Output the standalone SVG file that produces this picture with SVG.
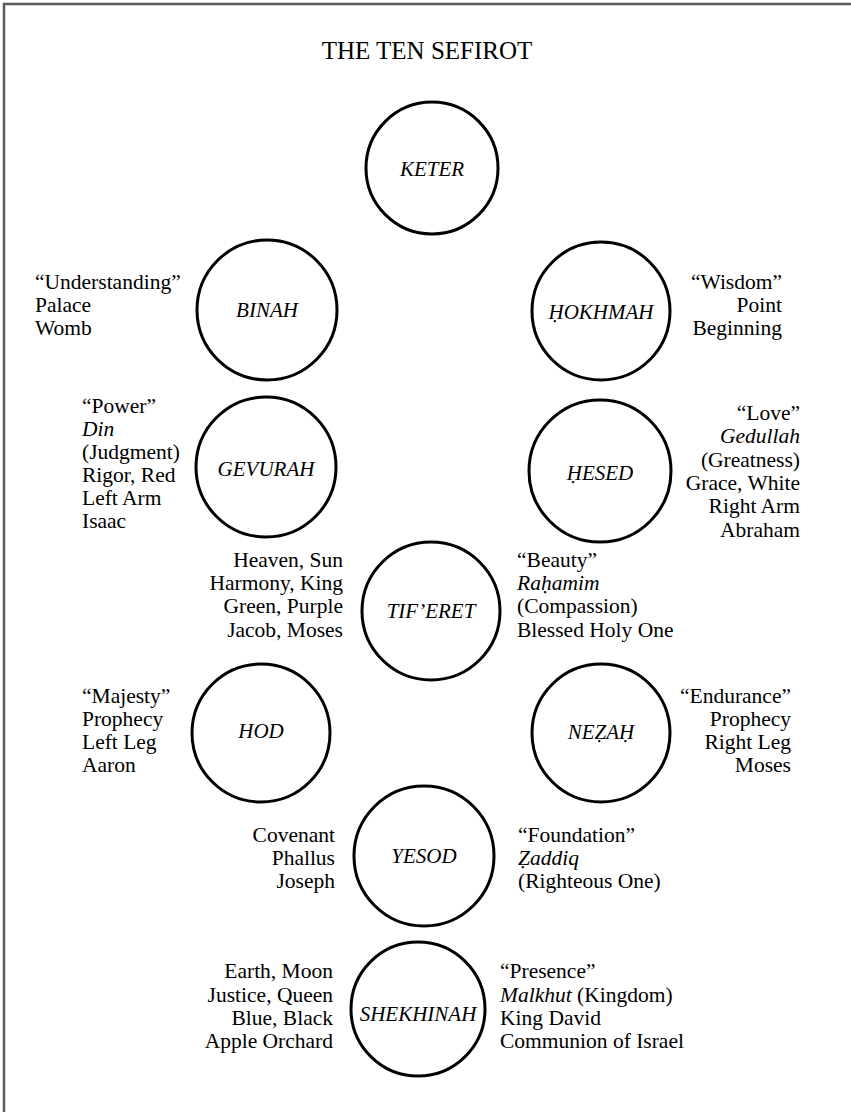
<svg xmlns="http://www.w3.org/2000/svg" width="851" height="1112" viewBox="0 0 851 1112">
<style>
.frame{fill:none;stroke:#5a5a5a;stroke-width:2.5}
.ring{fill:none;stroke:#000;stroke-width:3}
.title{font-family:"Liberation Serif",serif;font-size:25px;fill:#000;text-anchor:middle}
.name{font-family:"Liberation Serif",serif;font-size:21px;font-style:italic;fill:#000;text-anchor:middle}
.lab{font-family:"Liberation Serif",serif;font-size:21.5px;fill:#000}
.r{text-anchor:end}
.i{font-style:italic}
</style>
<rect width="851" height="1112" fill="#fff"/>
<polyline class="frame" points="4,1112 4,4 851,4"/>
<text class="title" x="427" y="59">THE TEN SEFIROT</text>
<g id="connectors"/>
<g id="keter">
<circle class="ring" cx="432" cy="168" r="66"/>
<text class="name" x="432" y="176">KETER</text>
</g>
<g id="binah">
<circle class="ring" cx="267" cy="310" r="70"/>
<text class="name" x="267" y="317">BINAH</text>
<text class="lab" x="35" y="289">“Understanding”</text>
<text class="lab" x="35" y="312">Palace</text>
<text class="lab" x="35" y="335">Womb</text>
</g>
<g id="hokhmah">
<circle class="ring" cx="601" cy="311" r="69"/>
<text class="name" x="601" y="319">ḤOKHMAH</text>
<text class="lab r" x="782" y="289">“Wisdom”</text>
<text class="lab r" x="782" y="312">Point</text>
<text class="lab r" x="782" y="335">Beginning</text>
</g>
<g id="gevurah">
<circle class="ring" cx="266" cy="467" r="70"/>
<text class="name" x="266" y="476">GEVURAH</text>
<text class="lab" x="82" y="413">“Power”</text>
<text class="lab i" x="82" y="436">Din</text>
<text class="lab" x="82" y="459">(Judgment)</text>
<text class="lab" x="82" y="482">Rigor, Red</text>
<text class="lab" x="82" y="505">Left Arm</text>
<text class="lab" x="82" y="528">Isaac</text>
</g>
<g id="hesed">
<circle class="ring" cx="600" cy="471" r="71"/>
<text class="name" x="600" y="480">ḤESED</text>
<text class="lab r" x="800" y="420">“Love”</text>
<text class="lab r i" x="800" y="443">Gedullah</text>
<text class="lab r" x="800" y="467">(Greatness)</text>
<text class="lab r" x="800" y="490">Grace, White</text>
<text class="lab r" x="800" y="513">Right Arm</text>
<text class="lab r" x="800" y="537">Abraham</text>
</g>
<g id="tiferet">
<circle class="ring" cx="431" cy="611" r="69"/>
<text class="name" x="431" y="618">TIF’ERET</text>
<text class="lab r" x="343" y="567">Heaven, Sun</text>
<text class="lab r" x="343" y="590">Harmony, King</text>
<text class="lab r" x="343" y="613">Green, Purple</text>
<text class="lab r" x="343" y="637">Jacob, Moses</text>
<text class="lab" x="517" y="567">“Beauty”</text>
<text class="lab i" x="517" y="590">Raḥamim</text>
<text class="lab" x="517" y="613">(Compassion)</text>
<text class="lab" x="517" y="637">Blessed Holy One</text>
</g>
<g id="hod">
<circle class="ring" cx="261" cy="733" r="69"/>
<text class="name" x="261" y="738">HOD</text>
<text class="lab" x="82" y="703">“Majesty”</text>
<text class="lab" x="82" y="726">Prophecy</text>
<text class="lab" x="82" y="749">Left Leg</text>
<text class="lab" x="82" y="772">Aaron</text>
</g>
<g id="nezah">
<circle class="ring" cx="601" cy="733" r="69"/>
<text class="name" x="601" y="739">NEẒAḤ</text>
<text class="lab r" x="791" y="703">“Endurance”</text>
<text class="lab r" x="791" y="726">Prophecy</text>
<text class="lab r" x="791" y="749">Right Leg</text>
<text class="lab r" x="791" y="772">Moses</text>
</g>
<g id="yesod">
<circle class="ring" cx="424" cy="856" r="70"/>
<text class="name" x="424" y="863">YESOD</text>
<text class="lab r" x="335" y="842">Covenant</text>
<text class="lab r" x="335" y="865">Phallus</text>
<text class="lab r" x="335" y="888">Joseph</text>
<text class="lab" x="518" y="842">“Foundation”</text>
<text class="lab i" x="518" y="865">Ẓaddiq</text>
<text class="lab" x="518" y="888">(Righteous One)</text>
</g>
<g id="shekhinah">
<circle class="ring" cx="418" cy="1009" r="67"/>
<text class="name" x="418" y="1021">SHEKHINAH</text>
<text class="lab r" x="333" y="978">Earth, Moon</text>
<text class="lab r" x="333" y="1002">Justice, Queen</text>
<text class="lab r" x="333" y="1025">Blue, Black</text>
<text class="lab r" x="333" y="1048">Apple Orchard</text>
<text class="lab" x="500" y="978">“Presence”</text>
<text class="lab" x="500" y="1002"><tspan class="i">Malkhut</tspan> (Kingdom)</text>
<text class="lab" x="500" y="1025">King David</text>
<text class="lab" x="500" y="1048">Communion of Israel</text>
</g>
</svg>
